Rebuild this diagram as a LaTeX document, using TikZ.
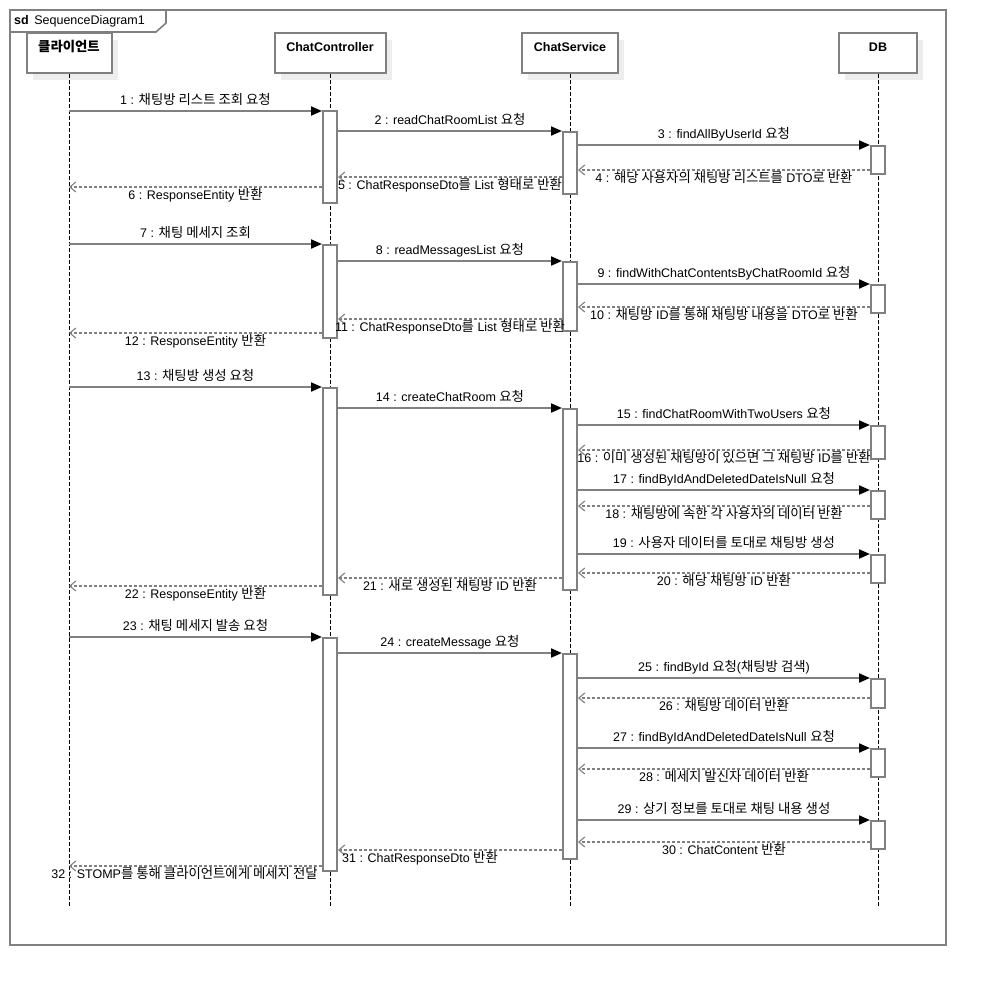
\documentclass[tikz,border=0pt]{standalone}
\usepackage{fontspec}
\setmainfont{Liberation Sans}
\newfontfamily\krfont[Scale=1.07]{Noto Sans CJK KR}
\usetikzlibrary{arrows.meta,shadows}
\newcommand{\kr}[1]{{\krfont #1}}
\definecolor{linegray}{HTML}{808080}
\definecolor{shadowgray}{HTML}{EDEDED}

\begin{document}
\begin{tikzpicture}[x=1pt,y=-1pt,
    every node/.style={font=\fontsize{12.5}{14}\selectfont},
    frame/.style={draw=linegray,line width=1.6pt},
    headbox/.style={draw=linegray,line width=2pt,fill=white,minimum height=40pt,
      drop shadow={shadow xshift=6pt,shadow yshift=-7pt,fill=shadowgray,opacity=1}},
    headtext/.style={anchor=north,yshift=-9pt,inner sep=1pt,text height=9pt,text depth=2.5pt,
      font=\fontsize{12.5}{14}\selectfont\bfseries},
    lifeline/.style={black,line width=0.9pt,dash pattern=on 3.5pt off 2.5pt},
    actbar/.style={draw=linegray,line width=2pt,fill=white,minimum width=14pt,inner sep=0pt,anchor=north},
    call/.style={draw=linegray,line width=2pt,-{Triangle[length=11pt,width=9pt,black]}},
    reply/.style={draw=linegray,line width=1.5pt,dash pattern=on 3pt off 2pt,
      -{Straight Barb[length=6pt,width=10pt,line width=1.1pt]}},
    msgup/.style={midway,above=3pt,inner sep=0.5pt,text height=9pt,text depth=2.5pt},
    msgdown/.style={midway,below=2.5pt,inner sep=0.5pt,text height=9pt,text depth=2.5pt}]
\useasboundingbox (0,0) rectangle (986,986);

% frame
\draw[frame] (10,10) rectangle (946,945);
\draw[frame] (10,32) -- (156,32) -- (166,23) -- (166,10);
\node[anchor=west,inner sep=1pt] (sd) at (13,21) {\textbf{sd}\, SequenceDiagram1};

% lifeline heads
\node[headbox,minimum width=85pt] (client) at (69,53) {};
\node[headbox,minimum width=111pt] (ctrl) at (330,53) {};
\node[headbox,minimum width=96pt] (svc) at (570,53) {};
\node[headbox,minimum width=78pt] (db) at (878,53) {};
\node[headtext] (clientT) at (client.north) {\kr{클라이언트}};
\node[headtext] (ctrlT) at (ctrl.north) {ChatController};
\node[headtext] (svcT) at (svc.north) {ChatService};
\node[headtext] (dbT) at (db.north) {DB};

\coordinate (clientEnd) at (69,907);
\coordinate (ctrlEnd) at (330,907);
\coordinate (svcEnd) at (570,907);
\coordinate (dbEnd) at (878,907);
\draw[lifeline] (client.south) -- (clientEnd);
\draw[lifeline] (ctrl.south) -- (ctrlEnd);
\draw[lifeline] (svc.south) -- (svcEnd);
\draw[lifeline] (db.south) -- (dbEnd);

% activation bars
\node[actbar,minimum height=92pt] (c1) at (330,110) {};
\node[actbar,minimum height=93pt] (c2) at (330,244) {};
\node[actbar,minimum height=207pt] (c3) at (330,387) {};
\node[actbar,minimum height=233pt] (c4) at (330,637) {};
\node[actbar,minimum height=62pt] (s1) at (570,131) {};
\node[actbar,minimum height=69pt] (s2) at (570,261) {};
\node[actbar,minimum height=181pt] (s3) at (570,408) {};
\node[actbar,minimum height=205pt] (s4) at (570,653) {};
\node[actbar,minimum height=28pt] (d1) at (878,145) {};
\node[actbar,minimum height=28pt] (d2) at (878,284) {};
\node[actbar,minimum height=33pt] (d3) at (878,425) {};
\node[actbar,minimum height=28pt] (d4) at (878,490) {};
\node[actbar,minimum height=28pt] (d5) at (878,554) {};
\node[actbar,minimum height=29pt] (d6) at (878,678) {};
\node[actbar,minimum height=28pt] (d7) at (878,748) {};
\node[actbar,minimum height=28pt] (d8) at (878,820) {};

% chat room list
\draw[call] (client |- 0,111) -- (c1.west |- 0,111) node[msgup] {1 : \kr{채팅방 리스트 조회 요청}};
\draw[call] (c1.east |- 0,131) -- (s1.west |- 0,131) node[msgup] {2 : readChatRoomList \kr{요청}};
\draw[call] (s1.east |- 0,145) -- (d1.west |- 0,145) node[msgup] {3 : findAllByUserId \kr{요청}};
\draw[reply] (d1.west |- 0,170) -- (s1.east |- 0,170) node[msgdown] {4 : \kr{해당 사용자의 채팅방 리스트를} DTO\kr{로 반환}};
\draw[reply] (s1.west |- 0,177) -- (c1.east |- 0,177) node[msgdown] {5 : ChatResponseDto\kr{를} List \kr{형태로 반환}};
\draw[reply] (c1.west |- 0,187) -- (client |- 0,187) node[msgdown] {6 : ResponseEntity \kr{반환}};

% messages
\draw[call] (client |- 0,244) -- (c2.west |- 0,244) node[msgup] {7 : \kr{채팅 메세지 조회}};
\draw[call] (c2.east |- 0,261) -- (s2.west |- 0,261) node[msgup] {8 : readMessagesList \kr{요청}};
\draw[call] (s2.east |- 0,284) -- (d2.west |- 0,284) node[msgup] {9 : findWithChatContentsByChatRoomId \kr{요청}};
\draw[reply] (d2.west |- 0,307) -- (s2.east |- 0,307) node[msgdown] {10 : \kr{채팅방} ID\kr{를 통해 채팅방 내용을} DTO\kr{로 반환}};
\draw[reply] (s2.west |- 0,319) -- (c2.east |- 0,319) node[msgdown] {11 : ChatResponseDto\kr{를} List \kr{형태로 반환}};
\draw[reply] (c2.west |- 0,333) -- (client |- 0,333) node[msgdown] {12 : ResponseEntity \kr{반환}};

% create chat room
\draw[call] (client |- 0,387) -- (c3.west |- 0,387) node[msgup] {13 : \kr{채팅방 생성 요청}};
\draw[call] (c3.east |- 0,408) -- (s3.west |- 0,408) node[msgup] {14 : createChatRoom \kr{요청}};
\draw[call] (s3.east |- 0,425) -- (d3.west |- 0,425) node[msgup] {15 : findChatRoomWithTwoUsers \kr{요청}};
\draw[reply] (d3.west |- 0,450) -- (s3.east |- 0,450) node[msgdown] {16 : \kr{이미 생성된 채팅방이 있으면 그 채팅방} ID\kr{를 반환}};
\draw[call] (s3.east |- 0,490) -- (d4.west |- 0,490) node[msgup] {17 : findByIdAndDeletedDateIsNull \kr{요청}};
\draw[reply] (d4.west |- 0,506) -- (s3.east |- 0,506) node[msgdown] {18 : \kr{채팅방에 속한 각 사용자의 데이터 반환}};
\draw[call] (s3.east |- 0,554) -- (d5.west |- 0,554) node[msgup] {19 : \kr{사용자 데이터를 토대로 채팅방 생성}};
\draw[reply] (d5.west |- 0,573) -- (s3.east |- 0,573) node[msgdown] {20 : \kr{해당 채팅방} ID \kr{반환}};
\draw[reply] (s3.west |- 0,578) -- (c3.east |- 0,578) node[msgdown] {21 : \kr{새로 생성된 채팅방} ID \kr{반환}};
\draw[reply] (c3.west |- 0,586) -- (client |- 0,586) node[msgdown] {22 : ResponseEntity \kr{반환}};

% send message
\draw[call] (client |- 0,637) -- (c4.west |- 0,637) node[msgup] {23 : \kr{채팅 메세지 발송 요청}};
\draw[call] (c4.east |- 0,653) -- (s4.west |- 0,653) node[msgup] {24 : createMessage \kr{요청}};
\draw[call] (s4.east |- 0,678) -- (d6.west |- 0,678) node[msgup] {25 : findById \kr{요청}(\kr{채팅방 검색})};
\draw[reply] (d6.west |- 0,698) -- (s4.east |- 0,698) node[msgdown] {26 : \kr{채팅방 데이터 반환}};
\draw[call] (s4.east |- 0,748) -- (d7.west |- 0,748) node[msgup] {27 : findByIdAndDeletedDateIsNull \kr{요청}};
\draw[reply] (d7.west |- 0,769) -- (s4.east |- 0,769) node[msgdown] {28 : \kr{메세지 발신자 데이터 반환}};
\draw[call] (s4.east |- 0,820) -- (d8.west |- 0,820) node[msgup] {29 : \kr{상기 정보를 토대로 채팅 내용 생성}};
\draw[reply] (d8.west |- 0,842) -- (s4.east |- 0,842) node[msgdown] {30 : ChatContent \kr{반환}};
\draw[reply] (s4.west |- 0,850) -- (c4.east |- 0,850) node[msgdown,xshift=-30pt] {31 : ChatResponseDto \kr{반환}};
\draw[reply] (c4.west |- 0,866) -- (client |- 0,866) node[msgdown,xshift=-11pt] {32 : STOMP\kr{를 통해 클라이언트에게 메세지 전달}};
\end{tikzpicture}
\end{document}
